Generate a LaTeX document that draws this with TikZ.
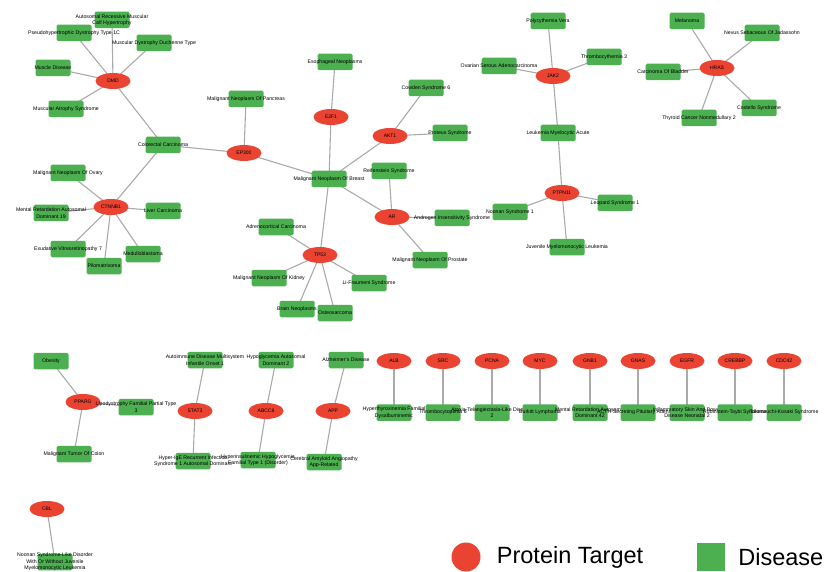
\documentclass[tikz,border=0pt]{standalone}
\usepackage{fontspec}
\setmainfont{Liberation Sans}
\usetikzlibrary{shapes.geometric, positioning, backgrounds}
\definecolor{targetred}{RGB}{234,67,50}
\definecolor{diseasegreen}{RGB}{76,175,80}
\definecolor{linkgray}{RGB}{170,170,170}
\tikzset{
  target/.style={ellipse, fill=targetred, minimum width=35pt, minimum height=16pt, inner sep=0pt, font=\fontsize{5}{6}\selectfont},
  disease/.style={rectangle, rounded corners=1.5pt, fill=diseasegreen, minimum width=35pt, minimum height=16.5pt, inner sep=0pt},
  dlabel/.style={font=\fontsize{5.2}{6.6}\selectfont, align=center, inner sep=0pt},
  link/.style={draw=linkgray, line width=1.1pt}
}

\begin{document}
\begin{tikzpicture}[x=1pt, y=-1pt]
\useasboundingbox (0,0) rectangle (827,572);

% DMD cluster
\node[target] (dmd) at (113,81) {DMD};
\node[disease, label={[dlabel]center:Autosomal Recessive Muscular\\Calf Hypertrophy}] (calfhyp) at (112,20) {};
\node[disease, label={[dlabel]center:Pseudohypertrophic Dystrophy Type 1C}] (pseudohyp) at (74,33) {};
\node[disease, label={[dlabel]center:Muscular Dystrophy Duchenne Type}] (duchenne) at (154,43) {};
\node[disease, label={[dlabel]center:Muscle Disease}] (muscledis) at (53,68) {};
\node[disease, label={[dlabel]center:Muscular Atrophy Syndrome}] (muscatrophy) at (66,109) {};

% CTNNB1 cluster
\node[target] (ctnnb1) at (111,207) {CTNNB1};
\node[disease, label={[dlabel]center:Colorectal Carcinoma}] (colorectal) at (163,145) {};
\node[disease, label={[dlabel]center:Malignant Neoplasm Of Ovary}] (ovary) at (68,173) {};
\node[disease, label={[dlabel]center:Mental Retardation Autosomal\\Dominant 19}] (mentalret) at (51,213) {};
\node[disease, label={[dlabel]center:Liver Carcinoma}] (liver) at (163,211) {};
\node[disease, label={[dlabel]center:Exudative Vitreoretinopathy 7}] (exudative) at (68,249) {};
\node[disease, label={[dlabel]center:Pilomatrixoma}] (pilomatrixoma) at (104,266) {};
\node[disease, label={[dlabel]center:Medulloblastoma}] (medullo) at (143,254) {};

% breast hub
\node[target] (ep300) at (244,153) {EP300};
\node[disease, label={[dlabel]center:Malignant Neoplasm Of Pancreas}] (pancreas) at (246,99) {};
\node[disease, label={[dlabel]center:Malignant Neoplasm Of Breast}] (breast) at (329,179) {};
\node[target] (e2f1) at (331,117) {E2F1};
\node[disease, label={[dlabel]center:Esophageal Neoplasms}] (esophageal) at (335,62) {};
\node[target] (akt1) at (390,136) {AKT1};
\node[disease, label={[dlabel]center:Cowden Syndrome 6}] (cowden) at (426,88) {};
\node[disease, label={[dlabel]center:Proteus Syndrome}] (proteus) at (450,133) {};
\node[target] (ar) at (392,217) {AR};
\node[disease, label={[dlabel]center:Reifenstein Syndrome}] (reifenstein) at (389,171) {};
\node[disease, label={[dlabel]center:Androgen Insensitivity Syndrome}] (androgen) at (452,218) {};
\node[disease, label={[dlabel]center:Malignant Neoplasm Of Prostate}] (prostate) at (430,260) {};
\node[target] (tp53) at (320,255) {TP53};
\node[disease, label={[dlabel]center:Adrenocortical Carcinoma}] (adrenocortical) at (276,227) {};
\node[disease, label={[dlabel]center:Malignant Neoplasm Of Kidney}] (kidney) at (269,278) {};
\node[disease, label={[dlabel]center:Brain Neoplasms}] (brainneo) at (297,309) {};
\node[disease, label={[dlabel]center:Osteosarcoma}] (osteosarcoma) at (335,313) {};
\node[disease, label={[dlabel]center:Li-Fraumeni Syndrome}] (lifraumeni) at (369,283) {};

% JAK2 and PTPN11
\node[target] (jak2) at (553,76) {JAK2};
\node[disease, label={[dlabel]center:Polycythemia Vera}] (polycythemia) at (548,21) {};
\node[disease, label={[dlabel]center:Thrombocythemia 3}] (thrombocythemia) at (604,57) {};
\node[disease, label={[dlabel]center:Ovarian Serous Adenocarcinoma}] (ovarian) at (499,66) {};
\node[disease, label={[dlabel]center:Leukemia Myelocytic Acute}] (aml) at (558,133) {};
\node[target] (ptpn11) at (562,193) {PTPN11};
\node[disease, label={[dlabel]center:Noonan Syndrome 1}] (noonan) at (510,212) {};
\node[disease, label={[dlabel]center:Leopard Syndrome 1}] (leopard) at (615,203) {};
\node[disease, label={[dlabel]center:Juvenile Myelomonocytic Leukemia}] (jmml) at (567,247) {};

% HRAS cluster
\node[target] (hras) at (717,68) {HRAS};
\node[disease, label={[dlabel]center:Melanoma}] (melanoma) at (687,21) {};
\node[disease, label={[dlabel]center:Nevus Sebaceous Of Jadassohn}] (nevus) at (762,33) {};
\node[disease, label={[dlabel]center:Carcinoma Of Bladder}] (bladder) at (663,72) {};
\node[disease, label={[dlabel]center:Costello Syndrome}] (costello) at (759,108) {};
\node[disease, label={[dlabel]center:Thyroid Cancer Nonmedullary 2}] (thyroid) at (699,118) {};

% small groups
\node[target] (pparg) at (83,402) {PPARG};
\node[disease, label={[dlabel]center:Obesity}] (obesity) at (51,361) {};
\node[disease, label={[dlabel]center:Lipodystrophy Familial Partial Type\\3}] (lipodystrophy) at (136,407) {};
\node[disease, label={[dlabel]center:Malignant Tumor Of Colon}] (colon) at (74,454) {};
\node[target] (stat3) at (195,411) {STAT3};
\node[disease, label={[dlabel]center:Autoimmune Disease Multisystem\\Infantile Onset 1}] (autoimmune) at (205,360) {};
\node[disease, label={[dlabel]center:Hyper-IgE Recurrent Infection\\Syndrome 1 Autosomal Dominant}] (hyperige) at (193,461) {};
\node[target] (abcc8) at (266,411) {ABCC8};
\node[disease, label={[dlabel]center:Hypoglycemia Autosomal\\Dominant 2}] (hypoglyc) at (276,360) {};
\node[disease, label={[dlabel]center:Hyperinsulinemic Hypoglycemia\\Familial Type 1 (Disorder)}] (hyperins) at (258,460) {};
\node[target] (app) at (333,411) {APP};
\node[disease, label={[dlabel]center:Alzheimer's Disease}] (alzheimer) at (346,360) {};
\node[disease, label={[dlabel]center:Cerebral Amyloid Angiopathy\\App-Related}] (caa) at (324,462) {};

% pairs
\node[target] (alb) at (394,361) {ALB};
\node[disease, below=35pt of alb, label={[dlabel]center:Hyperthyroxinemia Familial\\Dysalbuminemic}] (dysalb) {};
\node[target] (src) at (443,361) {SRC};
\node[disease, below=35pt of src, label={[dlabel]center:Thrombocytopenia 6}] (thrombocyto) {};
\node[target] (pcna) at (492,361) {PCNA};
\node[disease, below=35pt of pcna, label={[dlabel]center:Ataxia-Telangiectasia-Like Disorder\\2}] (atld) {};
\node[target] (myc) at (540,361) {MYC};
\node[disease, below=35pt of myc, label={[dlabel]center:Burkitt Lymphoma}] (burkitt) {};
\node[target] (gnb1) at (590,361) {GNB1};
\node[disease, below=35pt of gnb1, label={[dlabel]center:Mental Retardation Autosomal\\Dominant 42}] (mentalret42) {};
\node[target] (gnas) at (638,361) {GNAS};
\node[disease, below=35pt of gnas, label={[dlabel]center:ACTH-Secreting Pituitary Adenoma}] (pituitary) {};
\node[target] (egfr) at (687,361) {EGFR};
\node[disease, below=35pt of egfr, label={[dlabel]center:Inflammatory Skin And Bowel\\Disease Neonatal 2}] (nisbd) {};
\node[target] (crebbp) at (735,361) {CREBBP};
\node[disease, below=35pt of crebbp, label={[dlabel]center:Rubinstein-Taybi Syndrome}] (rubinstein) {};
\node[target] (cdc42) at (784,361) {CDC42};
\node[disease, below=35pt of cdc42, label={[dlabel]center:Takenouchi-Kosaki Syndrome}] (takenouchi) {};
\node[target] (cbl) at (47,509) {CBL};
\node[disease, label={[dlabel]center:Noonan Syndrome-Like Disorder\\With Or Without Juvenile\\Myelomonocytic Leukemia}] (noonanlike) at (55,562) {};

% Legend
\node[circle, fill=targetred, minimum size=29pt, inner sep=0pt] (legtarget) at (466,557) {};
\node[right=16pt of legtarget, inner sep=0pt, font=\fontsize{23.5}{26}\selectfont] (legtargettext) {Protein Target};
\node[disease, minimum width=28pt, minimum height=28pt, rounded corners=0pt] (legdisease) at (711,557) {};
\node[right=13pt of legdisease, inner sep=0pt, font=\fontsize{23.5}{26}\selectfont] (legdiseasetext) {Disease};

% Connections
\begin{scope}[on background layer]
\draw[link] (dmd.center) -- (calfhyp.center) (dmd.center) -- (pseudohyp.center) (dmd.center) -- (duchenne.center)
  (dmd.center) -- (muscledis.center) (dmd.center) -- (muscatrophy.center) (dmd.center) -- (colorectal.center);
\draw[link] (ctnnb1.center) -- (colorectal.center) (ctnnb1.center) -- (ovary.center) (ctnnb1.center) -- (mentalret.center)
  (ctnnb1.center) -- (liver.center) (ctnnb1.center) -- (exudative.center) (ctnnb1.center) -- (pilomatrixoma.center)
  (ctnnb1.center) -- (medullo.center);
\draw[link] (ep300.center) -- (colorectal.center) (ep300.center) -- (pancreas.center) (ep300.center) -- (breast.center);
\draw[link] (e2f1.center) -- (esophageal.center) (e2f1.center) -- (breast.center);
\draw[link] (akt1.center) -- (breast.center) (akt1.center) -- (cowden.center) (akt1.center) -- (proteus.center);
\draw[link] (ar.center) -- (breast.center) (ar.center) -- (reifenstein.center) (ar.center) -- (androgen.center)
  (ar.center) -- (prostate.center);
\draw[link] (tp53.center) -- (breast.center) (tp53.center) -- (adrenocortical.center) (tp53.center) -- (kidney.center)
  (tp53.center) -- (brainneo.center) (tp53.center) -- (osteosarcoma.center) (tp53.center) -- (lifraumeni.center);
\draw[link] (jak2.center) -- (polycythemia.center) (jak2.center) -- (thrombocythemia.center) (jak2.center) -- (ovarian.center)
  (jak2.center) -- (aml.center);
\draw[link] (ptpn11.center) -- (aml.center) (ptpn11.center) -- (noonan.center) (ptpn11.center) -- (leopard.center)
  (ptpn11.center) -- (jmml.center);
\draw[link] (hras.center) -- (melanoma.center) (hras.center) -- (nevus.center) (hras.center) -- (bladder.center)
  (hras.center) -- (costello.center) (hras.center) -- (thyroid.center);
\draw[link] (pparg.center) -- (obesity.center) (pparg.center) -- (lipodystrophy.center) (pparg.center) -- (colon.center);
\draw[link] (stat3.center) -- (autoimmune.center) (stat3.center) -- (hyperige.center);
\draw[link] (abcc8.center) -- (hypoglyc.center) (abcc8.center) -- (hyperins.center);
\draw[link] (app.center) -- (alzheimer.center) (app.center) -- (caa.center);
\draw[link] (alb.center) -- (dysalb.center) (src.center) -- (thrombocyto.center) (pcna.center) -- (atld.center)
  (myc.center) -- (burkitt.center) (gnb1.center) -- (mentalret42.center) (gnas.center) -- (pituitary.center)
  (egfr.center) -- (nisbd.center) (crebbp.center) -- (rubinstein.center) (cdc42.center) -- (takenouchi.center);
\draw[link] (cbl.center) -- (noonanlike.center);
\end{scope}
\end{tikzpicture}
\end{document}
